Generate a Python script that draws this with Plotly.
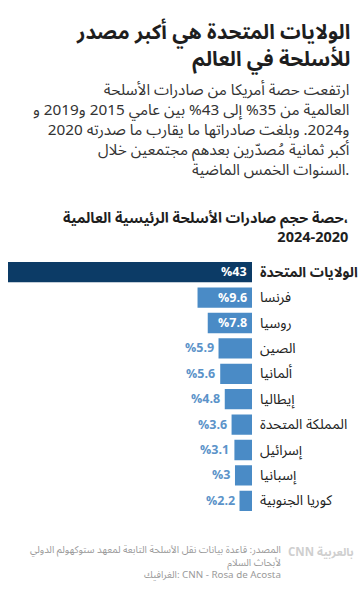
import plotly.graph_objects as go

W, H = 360, 591

countries = ["الولايات المتحدة", "فرنسا", "روسيا", "الصين", "ألمانيا", "إيطاليا",
             "المملكة المتحدة", "إسرائيل", "إسبانيا", "كوريا الجنوبية"]
shares = [43, 9.6, 7.8, 5.9, 5.6, 4.8, 3.6, 3.1, 3, 2.2]
value_labels = ["%43", "%9.6", "%7.8", "%5.9", "%5.6", "%4.8", "%3.6", "%3.1", "%3", "%2.2"]

title_lines = ["الولايات المتحدة هي أكبر مصدر", "للأسلحة في العالم"]
subtitle_lines = [
    "ارتفعت حصة أمريكا من صادرات الأسلحة",
    "العالمية من 35% إلى 43% بين عامي 2015 و2019 و",
    "2020 و2024. وبلغت صادراتها ما يقارب ما صدرته",
    "أكبر ثمانية مُصدّرين بعدهم مجتمعين خلال",
    "السنوات الخمس الماضية.",
]
chart_title_lines = ["حصة حجم صادرات الأسلحة الرئيسية العالمية،", "2024-2020"]
footer_lines = [
    "المصدر: قاعدة بيانات نقل الأسلحة التابعة لمعهد ستوكهولم الدولي",
    "لأبحاث السلام",
    "الغرافيك: CNN - Rosa de Acosta",
]
logo_text = "CNN بالعربية"

FONT = "Noto Sans Arabic, DejaVu Sans, sans-serif"
DARK = "#0c3b66"
BLUE = "#4a8bc6"
LABEL_BLUE = "#5b93c9"

def py(y):
    return 1 - y / H

n = len(countries)
ypos = list(range(n))
colors = [DARK] + [BLUE] * (n - 1)

fig = go.Figure(go.Bar(
    x=shares, y=ypos, orientation="h",
    marker=dict(color=colors, line=dict(width=0)),
    hoverinfo="skip",
))

top_px, bot_px = 259.5, 513.5
fig.update_layout(
    width=W, height=H,
    margin=dict(l=0, r=0, t=0, b=0),
    paper_bgcolor="white", plot_bgcolor="white",
    showlegend=False,
    bargap=0.2,
    xaxis=dict(domain=[8 / W, 252 / W], range=[max(shares), 0], visible=False, fixedrange=True),
    yaxis=dict(domain=[py(bot_px), py(top_px)], range=[n - 0.5, -0.5], visible=False, fixedrange=True),
    font=dict(family=FONT),
)

ann = []
def txt(text, x, y, xanchor, size, color, xref="paper", yref="paper", xshift=0):
    ann.append(dict(text=text, x=x, y=y, xref=xref, yref=yref, xanchor=xanchor,
                    align=xanchor, yanchor="middle", showarrow=False, xshift=xshift,
                    font=dict(size=size, color=color, family=FONT)))

txt("<br>".join(f"<b>{t}</b>" for t in title_lines), 352 / W, py(46.3), "right", 20.5, "#1e1e1e")
txt("<br>".join(subtitle_lines), 352 / W, py(129.6), "right", 15.3, "#333333")
txt("<br>".join(f"<b>{t}</b>" for t in chart_title_lines), 350 / W, py(228.5), "right", 14.5, "#1e1e1e")

for i, (c, v, lab) in enumerate(zip(countries, shares, value_labels)):
    name = f"<b>{c}</b>" if i == 0 else c
    txt(name, 258 / W, i, "left", 14, "#222222", yref="y")
    if v >= 7:
        txt(f"<b>{lab}</b>", 0, i, "right", 12.5, "white", xref="x", yref="y", xshift=-3)
    else:
        txt(f"<b>{lab}</b>", v, i, "right", 12.5, LABEL_BLUE, xref="x", yref="y", xshift=-3)

txt("<br>".join(footer_lines), 283 / W, py(562.5), "right", 9.8, "#9a9a9a")
txt(f"<b>{logo_text}</b>", 356 / W, py(552), "right", 11.5, "#cfcfcf")

fig.update_layout(annotations=ann)
fig.write_html("out.html", config={"displayModeBar": False},
               post_script="document.body.style.margin='0';")
